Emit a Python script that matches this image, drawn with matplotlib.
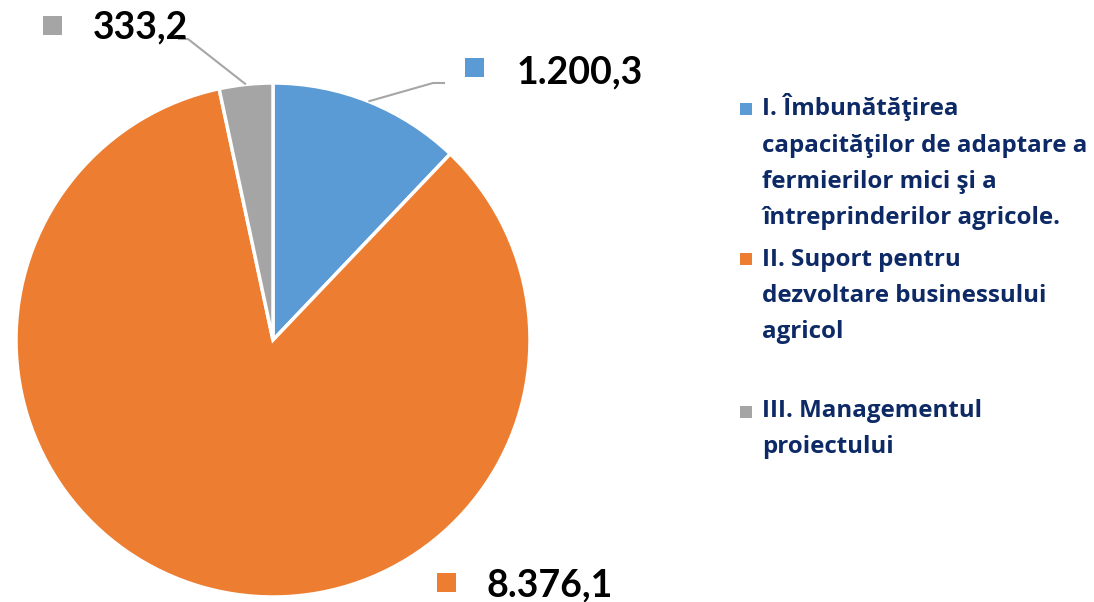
import matplotlib
matplotlib.use("Agg")
import matplotlib.pyplot as plt
from matplotlib.patches import Rectangle
import numpy as np

W, H = 1094, 602

categories = [
    "I. Îmbunătăţirea\ncapacităţilor de adaptare a\nfermierilor mici şi a\nîntreprinderilor agricole.",
    "II. Suport pentru\ndezvoltare businessului\nagricol",
    "III. Managementul\nproiectului",
]
values = [1200.3, 8376.1, 333.2]
value_labels = ["1.200,3", "8.376,1", "333,2"]
colors = ["#5B9BD5", "#ED7D31", "#A5A5A5"]

FONT = ["Lato", "DejaVu Sans"]
LEG_FONT = ["Open Sans", "DejaVu Sans"]
NAVY = "#0E2A66"

fig = plt.figure(figsize=(W / 100, H / 100), dpi=100)
fig.patch.set_facecolor("white")

cx, cy, r = 273, 340, 257
ax = fig.add_axes([(cx - r) / W, (H - cy - r) / H, 2 * r / W, 2 * r / H])
wedges, _ = ax.pie(values, colors=colors, startangle=90, counterclock=False,
                   radius=1.0, wedgeprops=dict(edgecolor="white", linewidth=2.5))
ax.set_xlim(-1, 1)
ax.set_ylim(-1, 1)
ax.set_aspect("equal")
ax.axis("off")

def px(x, y):
    return x / W, 1 - y / H

# leader lines (from wedge mid-angle edge to elbow)
def leader(wedge, elbow, end):
    ang = np.deg2rad((wedge.theta1 + wedge.theta2) / 2)
    x0, y0 = np.cos(ang), np.sin(ang)
    ex, ey = (elbow[0] - cx) / r, (cy - elbow[1]) / r
    fx, fy = (end[0] - cx) / r, (cy - end[1]) / r
    ax.plot([x0, ex, fx], [y0, ey, fy], color="#A6A6A6", lw=1.5,
            clip_on=False, solid_capstyle="butt")

leader(wedges[0], (433, 83), (445, 83))
leader(wedges[2], (188, 39), (178, 39))

# data labels with square markers
label_pos = {
    0: ((465, 58), (517, 83)),
    1: ((437, 573), (487, 596)),
    2: ((43, 16), (93, 38)),
}
for i, ((sx, sy), (tx, ty)) in label_pos.items():
    fig.add_artist(Rectangle(px(sx, sy + 19), 19 / W, 19 / H, transform=fig.transFigure,
                             facecolor=colors[i], edgecolor="none"))
    fig.text(*px(tx, ty), value_labels[i], fontsize=27, fontweight="bold",
             family=FONT, color="black", ha="left", va="baseline")

# legend (square y-top, baseline of last line)
leg_pos = [(103, 224), (253, 338), (406, 453)]
for i, (sq_y, base_y) in enumerate(leg_pos):
    fig.add_artist(Rectangle(px(740, sq_y + 12), 12 / W, 12 / H, transform=fig.transFigure,
                             facecolor=colors[i], edgecolor="none"))
    fig.text(*px(762, base_y), categories[i], fontsize=17.4, fontweight="bold",
             family=LEG_FONT, color=NAVY, ha="left", va="baseline", linespacing=1.68)

fig.savefig("out.png", dpi=100, facecolor="white")
